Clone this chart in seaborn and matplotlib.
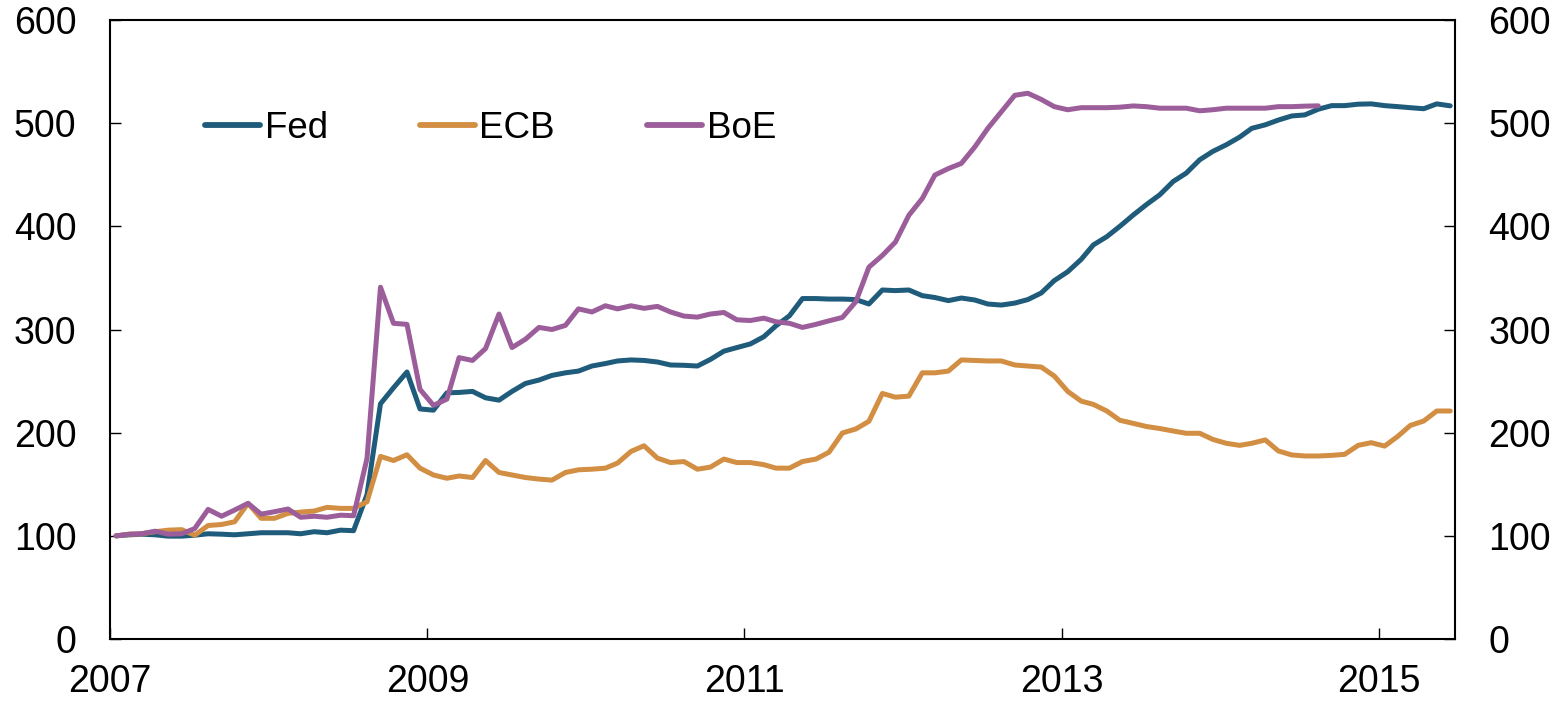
import pandas as pd
import matplotlib
matplotlib.use('Agg')
import matplotlib.pyplot as plt
import matplotlib.dates as mdates
import seaborn as sns

# monthly index values, Jan 2007 = 100
months = pd.date_range('2007-01-01', periods=102, freq='MS') + pd.Timedelta(days=14)
year_ticks = ['2007', '2009', '2011', '2013', '2015']

fed = [
    100, 101, 101.6, 101, 99.7, 99.7, 100.6, 102, 101.6, 101,
    102, 103, 103, 103, 102, 104, 103, 105.5, 105, 140,
    228, 243.5, 258.8, 223, 221.8, 238.6, 239, 240, 233.8, 231.5,
    240, 247.7, 251, 255.5, 258, 259.7, 264.6, 267, 269.5, 270.5,
    270, 268.5, 265.6, 265.3, 264.6, 271, 279, 282.5, 286, 293,
    303.6, 313.3, 330, 330, 329.5, 329.5, 329, 324.7, 338.3, 337.7,
    338.3, 332.8, 331, 328, 330.5, 328.6, 324.7, 323.7, 325.6, 329,
    335.4, 347.4, 356, 368, 382, 390, 400, 411, 421, 430.6,
    443.5, 451.6, 464.5, 472.6, 479, 486.5, 495, 498.4, 503, 507,
    508, 513.5, 517, 517, 518.4, 518.7, 517, 516, 515, 514,
    518.7, 516.8,
]

ecb = [
    100, 101.6, 102, 104, 105.5, 106, 100.6, 110, 111, 113.6,
    131.5, 117, 117, 121.8, 123, 124, 127.6, 126.6, 126.6, 133,
    177, 173, 178.6, 165.6, 159, 155.8, 158, 156.5, 173, 161.4,
    159, 156.5, 155, 154, 161.4, 164, 164.6, 165.6, 170.5, 181.8,
    187.3, 175.3, 171, 172, 164.6, 166.6, 174.4, 171, 171, 169,
    165.6, 165.6, 172, 174.4, 181, 199.7, 203.6, 211, 238, 234.4,
    235.4, 258, 258, 259.7, 270.5, 270, 269.5, 269.5, 265.6, 264.6,
    263.6, 254.9, 240, 230.6, 227.4, 221, 212, 209, 206, 204,
    201.6, 199.4, 199.4, 193.5, 189.7, 187.7, 189.7, 193, 182.3, 178.4,
    177.4, 177.4, 178, 179, 187.7, 190.3, 187, 196.7, 207, 211.3,
    221, 221,
]

boe = [
    100, 101.6, 102, 104.5, 101.6, 102, 107, 125.6, 119, 125,
    131.5, 121, 123.4, 126, 118, 119, 118, 120, 119.5, 175,
    341, 306, 305, 242, 226.5, 232.5, 272.7, 270, 281.5, 315,
    282.5, 290.6, 302, 300, 304, 320, 317, 323, 320, 323,
    320.5, 322.4, 317, 313, 312, 315, 316.5, 309.4, 308.7, 311,
    307.5, 306, 302, 305, 308.4, 311.7, 327, 360.4, 371.8, 384.7,
    410.7, 427, 449.7, 456, 461, 477, 495, 511, 527, 529,
    523, 516, 513, 515, 515, 515, 515.5, 516.7, 516, 514.5,
    514.5, 514.5, 512, 513, 514.5, 514.5, 514.5, 514.5, 516, 516,
    516.5, 516.8,
]

banks = ['Fed', 'ECB', 'BoE']
colors = {'Fed': '#1f5b7a', 'ECB': '#d28e42', 'BoE': '#9b5e9a'}

frames = []
for name, vals in zip(banks, [fed, ecb, boe]):
    frames.append(pd.DataFrame({'date': months[:len(vals)], 'value': vals, 'bank': name}))
df = pd.concat(frames, ignore_index=True)

sns.set_style('ticks')
plt.rcParams['font.family'] = ['Liberation Sans', 'DejaVu Sans']
plt.rcParams['text.color'] = 'black'

fig = plt.figure(figsize=(15.63, 7.02), dpi=100)
ax = fig.add_axes([110 / 1563, 1 - 639 / 702, 1345 / 1563, 619 / 702])

sns.lineplot(data=df, x='date', y='value', hue='bank', hue_order=banks,
             palette=colors, linewidth=3.6, ax=ax)

# legend in one row, no frame
old = ax.get_legend()
handles = old.legend_handles
labels = [t.get_text() for t in old.get_texts()]
old.remove()
leg = fig.legend(handles, labels, ncol=3, frameon=False, fontsize=26.5,
                 loc='center left', bbox_to_anchor=(205 / 1563, 1 - 128 / 702),
                 handlelength=1.5, handletextpad=0.12, columnspacing=2.5,
                 borderpad=0, borderaxespad=0)
for h in leg.legend_handles:
    h.set_linewidth(4.2)
    h.set_solid_capstyle('round')
for t in leg.get_texts():
    t.set_color('black')

ax.set_ylim(0, 600)
ax.set_yticks(range(0, 601, 100))
ax.set_xlim(pd.Timestamp('2007-01-01'), pd.Timestamp('2015-06-26'))
ax.set_xticks([pd.Timestamp(y + '-01-01') for y in year_ticks])
ax.xaxis.set_major_formatter(mdates.DateFormatter('%Y'))
ax.set_xlabel('')
ax.set_ylabel('')

for s in ax.spines.values():
    s.set_visible(True)
    s.set_linewidth(1.5)
    s.set_color('black')

ax.tick_params(axis='y', direction='in', length=8, width=1, labelsize=27,
               right=True, labelright=True, pad=24, colors='black')
ax.tick_params(axis='x', direction='in', length=8, width=1, labelsize=27,
               pad=18, colors='black')

fig.savefig('out.png', dpi=100)
